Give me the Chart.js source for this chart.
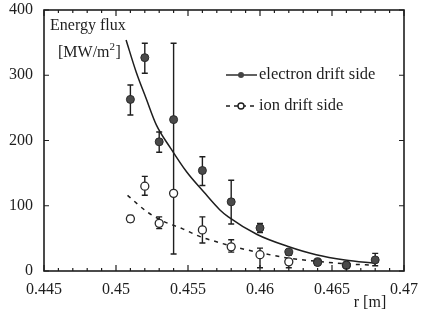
<!DOCTYPE html>
<html>
<head>
<meta charset="utf-8">
<script src="https://cdn.jsdelivr.net/npm/chart.js@4/dist/chart.umd.min.js"></script>
<style>
  html, body { margin: 0; padding: 0; background: #fff; }
  #wrap { width: 422px; height: 315px; }
</style>
</head>
<body>
<div id="wrap"><canvas id="flux"></canvas></div>
<script>
// measured points, electron drift side
const elecR = [0.451, 0.452, 0.453, 0.454, 0.456, 0.458, 0.460, 0.462, 0.464, 0.466, 0.468];
const elecFlux = [263, 327, 198, 232, 154, 106, 66, 29, 13, 9, 17];
const elecLow = [239, 303, 182, 26, 131, 72, 59, 24, 9, 6, 8];
const elecHigh = [285, 349, 213, 349, 175, 139, 73, 33, 17, 12, 27];

// measured points, ion drift side
const ionR = [0.451, 0.452, 0.453, 0.454, 0.456, 0.458, 0.460, 0.462, 0.464, 0.466];
const ionFlux = [80, 130, 73, 119, 63, 37, 25, 14, 14, 9];
const ionLow = [75, 116, 65, 119, 43, 29, 5, 5, 10, 6];
const ionHigh = [85, 145, 83, 119, 83, 48, 35, 18, 18, 12];

// fitted curves
const elecFitR = [0.4507, 0.4514, 0.4521, 0.4528, 0.4538, 0.4549, 0.4561, 0.4572, 0.4578, 0.4598, 0.4619, 0.4639, 0.4659, 0.468];
const elecFitY = [354, 305, 264, 224, 188, 152, 121, 94, 83, 56, 38, 25, 17, 12];
const ionFitR = [0.4508, 0.4522, 0.4533, 0.4546, 0.4558, 0.4571, 0.4582, 0.4598, 0.4619, 0.4639, 0.4659, 0.468];
const ionFitY = [116, 90, 76, 65, 53, 44, 37, 29, 20, 15, 11, 9];

const xTicks = [0.445, 0.45, 0.455, 0.46, 0.465, 0.47];
const yTicks = [0, 100, 200, 300, 400];

const serif = '"Liberation Serif", "DejaVu Serif", serif';
const ink = '#1e1e1e';

function pts(xs, ys) {
  return xs.map((x, i) => ({ x: x, y: ys[i] }));
}

// error bars under the markers
const errorBars = {
  id: 'errorBars',
  beforeDatasetsDraw(chart) {
    const ctx = chart.ctx;
    const xs = chart.scales.x, ys = chart.scales.y;
    const sets = [[elecR, elecLow, elecHigh], [ionR, ionLow, ionHigh]];
    ctx.save();
    ctx.strokeStyle = ink;
    ctx.lineWidth = 1.4;
    sets.forEach(([rs, lo, hi]) => {
      rs.forEach((r, i) => {
        if (hi[i] - lo[i] < 3) return;
        const px = xs.getPixelForValue(r);
        const y1 = ys.getPixelForValue(lo[i]);
        const y2 = ys.getPixelForValue(hi[i]);
        ctx.beginPath();
        ctx.moveTo(px, y1); ctx.lineTo(px, y2);
        ctx.moveTo(px - 3, y1); ctx.lineTo(px + 3, y1);
        ctx.moveTo(px - 3, y2); ctx.lineTo(px + 3, y2);
        ctx.stroke();
      });
    });
    ctx.restore();
  }
};

// frame, inward ticks, legend and labels
const decor = {
  id: 'decor',
  afterDraw(chart) {
    const ctx = chart.ctx;
    const a = chart.chartArea;
    const xs = chart.scales.x, ys = chart.scales.y;
    ctx.save();
    ctx.strokeStyle = ink;
    ctx.lineWidth = 1.6;
    ctx.strokeRect(a.left, a.top, a.right - a.left, a.bottom - a.top);

    ctx.lineWidth = 1.2;
    ctx.beginPath();
    xs.ticks.forEach(t => {
      const px = xs.getPixelForValue(t.value);
      const major = xTicks.some(v => Math.abs(v - t.value) < 1e-7);
      const len = major ? 6 : 3;
      ctx.moveTo(px, a.bottom); ctx.lineTo(px, a.bottom - len);
      ctx.moveTo(px, a.top); ctx.lineTo(px, a.top + len);
    });
    yTicks.forEach(v => {
      const py = ys.getPixelForValue(v);
      ctx.moveTo(a.left, py); ctx.lineTo(a.left + 5, py);
      ctx.moveTo(a.right, py); ctx.lineTo(a.right - 5, py);
    });
    ctx.stroke();

    ctx.fillStyle = ink;
    ctx.font = '16px ' + serif;
    ctx.textBaseline = 'middle';
    ctx.textAlign = 'left';
    ctx.fillText('Energy flux', 50, 26);
    ctx.fillText('[MW/m', 58, 53);
    const w = ctx.measureText('[MW/m').width;
    ctx.font = '11px ' + serif;
    ctx.fillText('2', 58 + w, 47);
    ctx.font = '16px ' + serif;
    ctx.fillText(']', 58 + w + 6, 53);

    // legend
    ctx.font = '16.5px ' + serif;
    ctx.fillText('electron drift side', 259, 75);
    ctx.fillText('ion drift side', 259, 106);
    ctx.lineWidth = 1.4;
    ctx.beginPath();
    ctx.moveTo(226, 75); ctx.lineTo(257, 75);
    ctx.stroke();
    ctx.setLineDash([4, 4]);
    ctx.beginPath();
    ctx.moveTo(226, 106); ctx.lineTo(257, 106);
    ctx.stroke();
    ctx.setLineDash([]);
    ctx.fillStyle = '#444';
    ctx.beginPath(); ctx.arc(241, 75, 3, 0, Math.PI * 2); ctx.fill();
    ctx.fillStyle = '#fff';
    ctx.beginPath(); ctx.arc(241, 106, 3, 0, Math.PI * 2); ctx.fill(); ctx.stroke();

    ctx.fillStyle = ink;
    ctx.font = '16px ' + serif;
    ctx.textAlign = 'center';
    ctx.fillText('r [m]', 370, 303);
    ctx.restore();
  }
};

new Chart(document.getElementById('flux'), {
  type: 'scatter',
  data: {
    datasets: [{
      label: 'electron drift side',
      data: pts(elecR, elecFlux),
      pointRadius: 4,
      pointBackgroundColor: '#4a4a4a',
      pointBorderColor: '#2a2a2a',
      pointBorderWidth: 1,
      order: 1
    }, {
      label: 'ion drift side',
      data: pts(ionR, ionFlux),
      pointRadius: 4,
      pointBackgroundColor: '#fff',
      pointBorderColor: '#2a2a2a',
      pointBorderWidth: 1.3,
      order: 2
    }, {
      label: 'electron fit',
      data: pts(elecFitR, elecFitY),
      showLine: true,
      pointRadius: 0,
      borderColor: ink,
      borderWidth: 1.5,
      cubicInterpolationMode: 'monotone',
      order: 3
    }, {
      label: 'ion fit',
      data: pts(ionFitR, ionFitY),
      showLine: true,
      pointRadius: 0,
      borderColor: ink,
      borderWidth: 1.5,
      borderDash: [4, 5],
      cubicInterpolationMode: 'monotone',
      order: 4
    }]
  },
  options: {
    responsive: true,
    maintainAspectRatio: false,
    animation: false,
    layout: { padding: { top: 10, right: 18, left: 0, bottom: 0 } },
    plugins: { legend: { display: false }, tooltip: { enabled: false } },
    scales: {
      x: {
        type: 'linear',
        min: 0.445,
        max: 0.47,
        grid: { display: false },
        border: { display: false },
        afterFit: (s) => { s.height = 44; s.paddingLeft = 0; s.paddingRight = 0; },
        afterBuildTicks: (s) => {
          const t = [];
          for (let i = 0; i <= 25; i++) t.push({ value: Math.round((0.445 + i * 0.001) * 1e6) / 1e6 });
          s.ticks = t;
        },
        ticks: {
          autoSkip: false,
          maxRotation: 0,
          padding: 1,
          color: ink,
          font: { family: serif, size: 16 },
          callback: (v) => {
            const hit = xTicks.find(x => Math.abs(x - v) < 1e-7);
            return hit === undefined ? '' : String(hit);
          }
        }
      },
      y: {
        min: 0,
        max: 400,
        grid: { display: false },
        border: { display: false },
        afterFit: (s) => { s.width = 44; s.paddingTop = 0; s.paddingBottom = 0; },
        afterBuildTicks: (s) => { s.ticks = yTicks.map(v => ({ value: v })); },
        ticks: {
          padding: 3,
          color: ink,
          font: { family: serif, size: 16 }
        }
      }
    }
  },
  plugins: [errorBars, decor]
});
</script>
</body>
</html>
